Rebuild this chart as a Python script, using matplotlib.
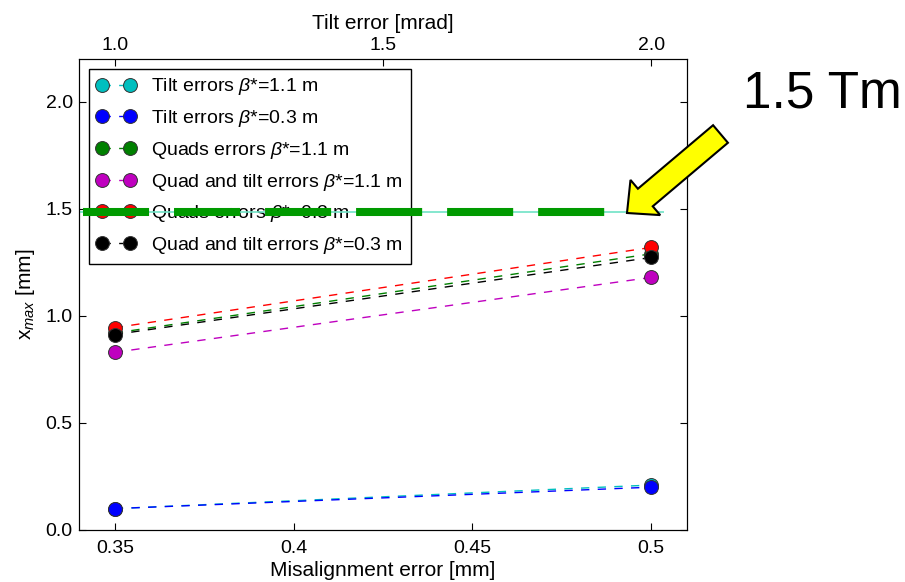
import matplotlib
matplotlib.use('Agg')
import matplotlib.pyplot as plt
import matplotlib.patches as mpatches
import matplotlib.transforms as mtransforms

plt.rcParams['font.family'] = ['Liberation Sans', 'DejaVu Sans']
plt.rcParams['mathtext.fontset'] = 'custom'
plt.rcParams['mathtext.rm'] = 'Liberation Sans'
plt.rcParams['mathtext.it'] = 'Liberation Sans:italic'
plt.rcParams['mathtext.bf'] = 'Liberation Sans:bold'

# ---------------- data ----------------
misalignment = [0.35, 0.5]              # mm (bottom axis)
x_ticks = [0.35, 0.4, 0.45, 0.5]
x_ticklabels = ['0.35', '0.4', '0.45', '0.5']
y_ticks = [0.0, 0.5, 1.0, 1.5, 2.0]
y_ticklabels = ['0.0', '0.5', '1.0', '1.5', '2.0']
tilt_ticks = [1.0, 1.5, 2.0]            # mrad (top axis)
tilt_ticklabels = ['1.0', '1.5', '2.0']

series_labels = [
    r'Tilt errors $\beta$*=1.1 m',
    r'Tilt errors $\beta$*=0.3 m',
    r'Quads errors $\beta$*=1.1 m',
    r'Quad and tilt errors $\beta$*=1.1 m',
    r'Quads errors $\beta$*=0.3 m',
    r'Quad and tilt errors $\beta$*=0.3 m',
]
tilt_b11 = [0.10, 0.21]
tilt_b03 = [0.10, 0.20]
quads_b11 = [0.92, 1.29]
quadtilt_b11 = [0.83, 1.18]
quads_b03 = [0.945, 1.32]
quadtilt_b03 = [0.913, 1.273]
series_values = [tilt_b11, tilt_b03, quads_b11, quadtilt_b11, quads_b03, quadtilt_b03]
series_colors = [(0, 0.75, 0.75), (0, 0, 1), (0, 0.5, 0), (0.75, 0, 0.75), (1, 0, 0), (0, 0, 0)]

threshold = 1.487                      # 1.5 Tm aperture line
threshold_span = [0.34, 0.5035]
marker_line_span = [0.3411, 0.4933]

# ---------------- figure ----------------
W, H = 905, 582
fig = plt.figure(figsize=(W / 100, H / 100), dpi=100)
ax = fig.add_axes([79 / W, (H - 530) / H, (687 - 79) / W, (530 - 59) / H])

for vals, col, lab in zip(series_values, series_colors, series_labels):
    ax.plot(misalignment, vals, linestyle=(0, (6, 6)), lw=1.0, color=col,
            marker='o', ms=10, mfc=col, mec='#333333', mew=0.7, label=lab)

ax.plot(threshold_span, [threshold, threshold], color='#6fe3c6', lw=1.2, zorder=6,
        solid_capstyle='butt')
ax.plot(marker_line_span, [threshold, threshold], color='#009a00', lw=5.8, zorder=7,
        linestyle=(0, (8.2, 3.1)), dash_capstyle='butt', clip_on=False)

ax.set_xlim(0.34, 0.51)
ax.set_ylim(0, 2.2)
ax.set_xticks(x_ticks)
ax.set_xticklabels(x_ticklabels)
ax.set_yticks(y_ticks)
ax.set_yticklabels(y_ticklabels)
ax.tick_params(direction='in', length=5, labelsize=14, top=False, right=True)
ax.tick_params(axis='x', pad=7)
ax.tick_params(axis='y', pad=4.5)
ax.set_xlabel('Misalignment error [mm]', fontsize=15, labelpad=3)
ax.set_ylabel(r'x$_{max}$ [mm]', fontsize=15, labelpad=6)

leg = ax.legend(loc='upper left', numpoints=2, fontsize=14, fancybox=False,
                framealpha=1, edgecolor='black', labelspacing=0.55)
leg.get_frame().set_linewidth(1.0)
leg.set_zorder(5)

ax2 = ax.twiny()
x0, x1 = ax.get_xlim()
conv = lambda v: 1.0 + (v - misalignment[0]) / (misalignment[1] - misalignment[0])
ax2.set_xlim(conv(x0), conv(x1))
ax2.set_xticks(tilt_ticks)
ax2.set_xticklabels(tilt_ticklabels)
ax2.tick_params(direction='in', length=5, labelsize=14, pad=3.5)
ax2.set_xlabel('Tilt error [mrad]', fontsize=15, labelpad=6)

# annotation arrow (pixel coordinates of the figure)
tip = (627, H - 213)
tail = (720.5, H - 134)
arrow = mpatches.FancyArrow(tail[0], tail[1], tip[0] - tail[0], tip[1] - tail[1],
                            width=23, head_width=46, head_length=24,
                            length_includes_head=True, facecolor='#ffff00',
                            edgecolor='black', lw=1.5,
                            transform=mtransforms.IdentityTransform(), zorder=10)
fig.add_artist(arrow)
fig.text(743 / W, 1 - 107 / H, '1.5 Tm', fontsize=37, va='baseline', ha='left')

fig.savefig('out.png', dpi=100)
